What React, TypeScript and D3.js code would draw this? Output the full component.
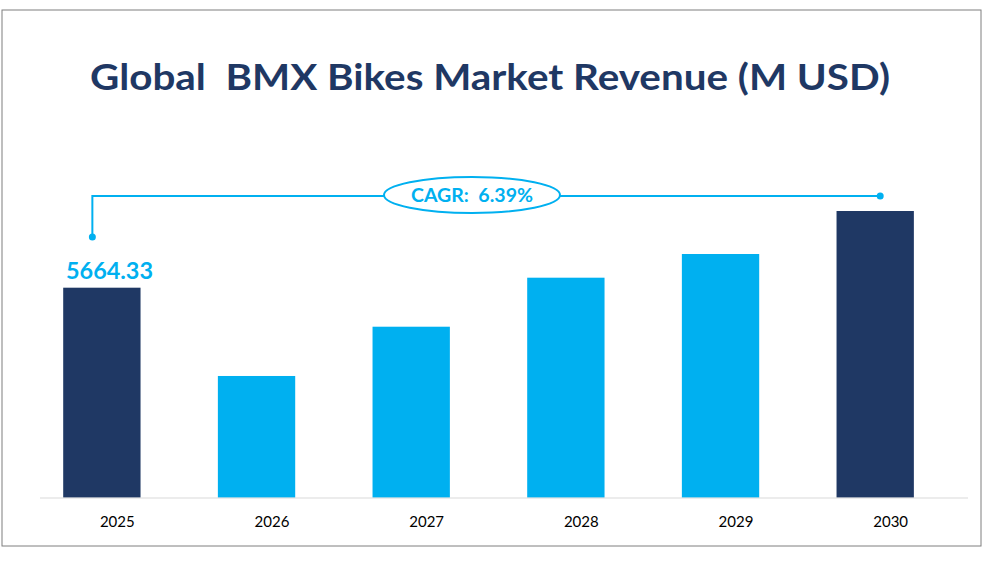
import * as d3 from 'd3';

const years = ['2025', '2026', '2027', '2028', '2029', '2030'];
const revenue = [5664.33, 3283, 4612, 5934, 6573, 7733];
const highlight = [true, false, false, false, false, true];
const cagrText = 'CAGR:  6.39%';
const title = 'Global  BMX Bikes Market Revenue (M USD)';

const W = 985;
const H = 563;
const NAVY = '#1F3864';
const BLUE = '#00B0F0';

const App = () => {
  // category bands span the axis line; bars sit left of each band's centre
  const x = d3.scaleBand<string>().domain(years).range([40, 968]).padding(0);
  const y = d3.scaleLinear().domain([0, 8000]).range([497.7, 201.1]);
  const step = x.step();
  const barW = step * 0.5;
  const barX = (yr: string) => x(yr)! + step * 0.15;

  const first = barX(years[0]) + barW / 2;
  const last = barX(years[years.length - 1]) + barW / 2;
  const lineY = 196;
  const cx = 472;

  return (
    <svg width={W} height={H} style={{ position: 'absolute', left: 0, top: 0 }}>
      <rect x={2} y={10} width={979} height={536} fill="#fff" stroke="#7F7F7F" strokeWidth={1} />
      <text
        x={490}
        y={90}
        textAnchor="middle"
        fontFamily="Lato, 'Open Sans', sans-serif"
        fontWeight="bold"
        fontSize={37}
        fill={NAVY}
        textLength={800}
        lengthAdjust="spacingAndGlyphs"
        style={{ whiteSpace: 'pre' }}
      >
        {title}
      </text>

      {years.map((yr, i) => (
        <rect
          key={yr}
          x={barX(yr)}
          y={y(revenue[i])}
          width={barW}
          height={y(0) - y(revenue[i])}
          fill={highlight[i] ? NAVY : BLUE}
        />
      ))}

      <line x1={40} x2={968} y1={498} y2={498} stroke="#D9D9D9" strokeWidth={1} />

      {years.map((yr) => (
        <text
          key={yr}
          x={x(yr)! + x.bandwidth() / 2}
          y={527}
          textAnchor="middle"
          fontFamily="Lato, 'Open Sans', sans-serif"
          fontSize={15}
          fill="#000"
        >
          {yr}
        </text>
      ))}

      <text
        x={66}
        y={279}
        fontFamily="Lato, 'Open Sans', sans-serif"
        fontWeight="bold"
        fontSize={23}
        fill={BLUE}
        textLength={87}
        lengthAdjust="spacingAndGlyphs"
      >
        {revenue[0].toFixed(2)}
      </text>

      <path
        d={`M${first - 9.5},${237} L${first - 9.5},${lineY} L${last + 5},${lineY}`}
        fill="none"
        stroke={BLUE}
        strokeWidth={2}
      />
      <circle cx={first - 9.5} cy={237} r={3.5} fill={BLUE} />
      <circle cx={last + 5} cy={lineY} r={3.5} fill={BLUE} />
      <ellipse cx={cx} cy={lineY - 1} rx={88} ry={18} fill="#fff" stroke={BLUE} strokeWidth={2} />
      <text
        x={cx}
        y={lineY + 6}
        textAnchor="middle"
        fontFamily="Lato, 'Open Sans', sans-serif"
        fontWeight="bold"
        fontSize={19}
        fill={BLUE}
        textLength={122}
        lengthAdjust="spacingAndGlyphs"
        style={{ whiteSpace: 'pre' }}
      >
        {cagrText}
      </text>
    </svg>
  );
};

export default App;
